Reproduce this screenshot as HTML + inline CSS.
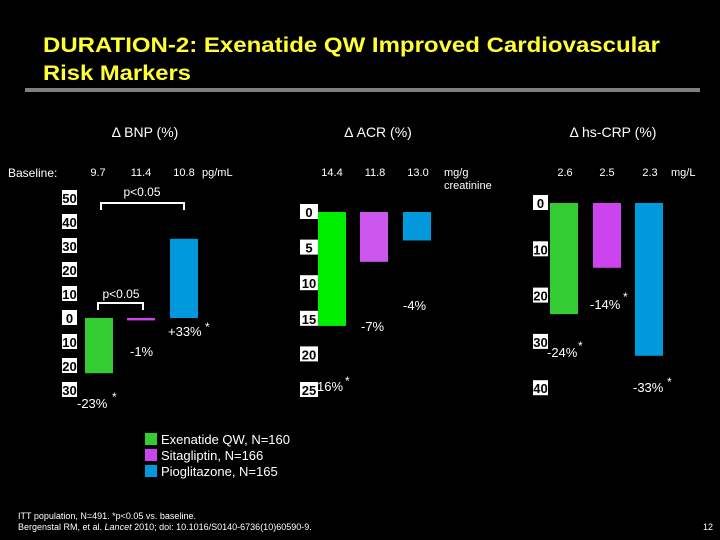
<!DOCTYPE html>
<html><head><meta charset="utf-8"><style>
body{margin:0;background:#000;}
#c{position:relative;width:720px;height:540px;background:#000;overflow:hidden;font-family:"Liberation Sans",sans-serif;color:#fff;}
</style></head><body>
<div id="c">
<svg id="s" width="720" height="540" style="position:absolute;left:0;top:0" font-family="Liberation Sans, sans-serif">
<text x="43" y="52" fill="#ffff33" font-size="21" font-weight="bold" textLength="617" lengthAdjust="spacingAndGlyphs">DURATION-2: Exenatide QW Improved Cardiovascular</text>
<text x="43" y="80" fill="#ffff33" font-size="21" font-weight="bold" textLength="148" lengthAdjust="spacingAndGlyphs">Risk Markers</text>
<rect x="25" y="88" width="675" height="4" fill="#808080"/>
</svg>
</div>
<script>
const panels=["Δ BNP (%)","Δ ACR (%)","Δ hs-CRP (%)"];
const bnpValues=[-23,-1,33];
const acrValues=[-16,-7,-4];
const crpValues=[-24,-14,-33];
const bnpTicks=[50,40,30,20,10,0,10,20,30];
const acrTicks=[0,5,10,15,20,25];
const crpTicks=[0,10,20,30,40];
const bnpLabels=["-23%","-1%","+33%"];
const acrLabels=["16%","-7%","-4%"];
const crpLabels=["-24%","-14%","-33%"];
const baselines=[["9.7","11.4","10.8"],["14.4","11.8","13.0"],["2.6","2.5","2.3"]];
const series=["Exenatide QW, N=160","Sitagliptin, N=166","Pioglitazone, N=165"];
const colors=["#33cc33","#cc44ee","#0099dd"];
const acrColors=["#00ee00","#cc55ee","#0099dd"];
const s=document.getElementById('s');
const NS='http://www.w3.org/2000/svg';
function mk(tag,at,name,txt){const e=document.createElementNS(NS,tag);for(const k in at)e.setAttribute(k,at[k]);


if(txt!==undefined)e.textContent=txt;s.appendChild(e);return e;}
function txt(x,y,t,name,size,anchor){return mk('text',{x:x,y:y,fill:'#fff','font-size':size||12,'text-anchor':anchor||'start'},name,t);}
txt(145,137,panels[0],'bnp-title',14,'middle');
txt(378,137,panels[1],'acr-title',14,'middle');
txt(613,137,panels[2],'crp-title',14,'middle');
txt(8,177,'Baseline:','baseline-label',12);
const bx=[[98,141,184],[332,375,418],[565,607,650]];
baselines.forEach((b,i)=>b.forEach((v,j)=>txt(bx[i][j],176,v,'baseline-value',11,'middle')));
txt(202,176,'pg/mL','bnp-unit',11);txt(671,176,'mg/L','crp-unit',11);
txt(444,176,'mg/g','acr-unit',11);txt(444,189,'creatinine','acr-unit2',11);
function panel(p){
  const y=v=>p.y0-v*p.k;
  p.ticks.forEach((t,i)=>{const val=p.tickVals[i];const yy=y(val);
    mk('rect',{x:p.lx,y:yy-8,width:p.lw,height:15,fill:'#fff'},p.n+'-tick-box');
    mk('text',{x:p.lx+p.lw/2,y:yy+5,fill:'#000','font-size':13,'font-weight':'bold','text-anchor':'middle'},p.n+'-tick-label',t);});
  p.vals.forEach((v,i)=>{const x=p.bx[i];const y1=Math.min(y(0),y(v)),h=Math.max(Math.abs(y(v)-y(0)),2);
    mk('rect',{x:x,y:y1,width:28,height:h,fill:p.cols[i]},p.n+'-bar-'+i);
    const l=p.lab[i];txt(l[0],l[1],p.labels[i],p.n+'-value-label',13);
    if(l[2])txt(l[2],l[3],'*',p.n+'-sig-star',12);});
}
panel({n:'bnp',y0:318,k:2.4,lx:62,lw:15,ticks:bnpTicks,tickVals:bnpTicks.map((t,i)=>i>5?-t:t),vals:bnpValues,bx:[85,127,170],cols:colors,labels:bnpLabels,
  lab:[[77,408,112,401],[130,356],[168,336,205,331]]});
panel({n:'acr',y0:212,k:7.12,lx:300,lw:18,ticks:acrTicks,tickVals:acrTicks.map(t=>-t),vals:acrValues,bx:[318,360,403],cols:acrColors,labels:acrLabels,
  lab:[[317,391,345,385],[361,331],[403,310]]});
panel({n:'crp',y0:203,k:4.63,lx:533,lw:15,ticks:crpTicks,tickVals:crpTicks.map(t=>-t),vals:crpValues,bx:[550,593,635],cols:colors,labels:crpLabels,
  lab:[[547,357,578,350],[590,309,623,301],[633,392,667,386]]});
mk('path',{d:'M101,210 V203 H184 V210',stroke:'#fff','stroke-width':2,fill:'none'},'bnp-bracket-1');
txt(142,196,'p<0.05','bnp-pvalue-1',12,'middle');
mk('path',{d:'M98,310 V303 H143 V310',stroke:'#fff','stroke-width':2,fill:'none'},'bnp-bracket-2');
txt(121,298,'p<0.05','bnp-pvalue-2',12,'middle');
series.forEach((n,i)=>{mk('rect',{x:145,y:433+i*16,width:12,height:12,fill:colors[i]},'legend-swatch');
  txt(161,444+i*16,n,'legend-entry',13);});
txt(18,519,'ITT population, N=491. *p<0.05 vs. baseline.','footnote',9);
const f=txt(18,530,'','citation',9);
f.innerHTML='Bergenstal RM, et al. <tspan font-style="italic">Lancet</tspan> 2010; doi: 10.1016/S0140-6736(10)60590-9.';
txt(713,530,'12','page-number',9,'end');
</script>
</body></html>
